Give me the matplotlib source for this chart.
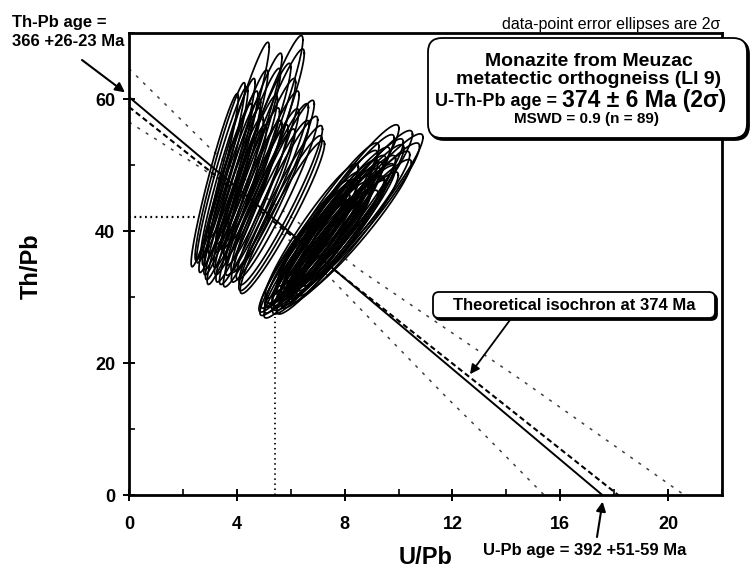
import numpy as np
import matplotlib.pyplot as plt
from matplotlib.patches import FancyBboxPatch
from matplotlib.ticker import MultipleLocator

plt.rcParams['font.family'] = ['Liberation Sans', 'DejaVu Sans']
plt.rcParams['font.weight'] = 'bold'

# ellipse centres (U/Pb, Th/Pb)
left_x = [5.06, 4.08, 4.41, 4.71, 3.18, 3.83, 4.94, 5.22, 5.62, 5.39, 5.63, 5.69,
          3.46, 3.67, 3.75, 3.83, 3.91, 4.32, 4.38, 4.45, 4.95, 4.63, 5.24, 4.04,
          4.45, 4.85, 4.83, 3.58, 4.00, 5.10, 5.49, 3.38]
left_y = [54.6, 53.8, 50.7, 51.3, 47.7, 47.1, 45.9, 46.5, 42.7, 46.9, 43.9, 42.1,
          48.5, 49.5, 48.0, 46.0, 45.0, 47.5, 46.0, 44.5, 48.0, 44.0, 44.5, 50.5,
          52.5, 49.5, 43.5, 46.5, 44.0, 53.0, 45.0, 49.0]
right_x = [7.98, 8.69, 7.35, 6.72, 6.73, 7.21, 7.60, 7.13, 6.84, 7.45, 7.84, 7.96,
           7.36, 6.55, 7.88, 8.30, 7.71, 7.39, 8.11, 8.59, 6.52, 7.15, 7.07, 7.88,
           7.84, 8.38, 6.78, 7.59, 7.55, 6.76, 8.35, 7.13, 8.13, 7.51, 7.36, 6.47]
right_y = [44.7, 43.6, 41.6, 36.0, 37.0, 37.5, 38.0, 38.5, 39.0, 39.5, 40.0, 39.0,
           40.5, 38.0, 41.0, 41.5, 42.0, 42.5, 43.0, 42.5, 36.5, 36.8, 37.8, 39.8,
           43.5, 44.0, 40.0, 41.0, 38.5, 38.2, 40.5, 39.2, 42.3, 40.2, 36.8, 37.2]
err_left, rho_left = 0.275, 0.955     # relative 2 sigma, correlation
err_right, rho_right = 0.255, 0.95

# regression line, its envelope and the theoretical isochron
fit_x = [0, 17.56]
fit_y = [60.3, 0]
theo_x = [0, 18.15]
theo_y = [58.8, 0]
env_up_x = [0, 3.07, 5.1, 8.56, 14.6, 20.6]
env_up_y = [64.6, 52.3, 45.0, 34.1, 17.3, 0]
env_lo_x = [0, 2.81, 5.2, 7.44, 11.78, 13.1, 15.4]
env_lo_y = [56.5, 49.2, 41.4, 33.0, 14.8, 9.5, 0]
ref_th = 42.1    # Th/Pb at the centroid
ref_u = 5.41     # U/Pb at the centroid

W, H = 751, 571


def ellipse(cx, cy, e, rho, n=160):
    t = np.linspace(0, 2 * np.pi, n)
    phi = np.arccos(rho)
    return cx + cx * e * np.cos(t), cy + cy * e * np.cos(t - phi)


def fx(px):
    return px / W


def fy(py):
    return 1 - py / H


def shadow_box(x0, y0, x1, y1, r=12):
    # rounded box with a small drop shadow, pixel coords (top-left origin)
    for dx, dy, fc in [(2, 2, 'black'), (0, 0, 'white')]:
        p = FancyBboxPatch((fx(x0 + dx), fy(y1 + dy)), fx(x1 - x0), (y1 - y0) / H,
                           boxstyle=f'round,pad=0,rounding_size={r / W}',
                           mutation_aspect=W / H, transform=fig.transFigure,
                           fc=fc, ec='black', lw=1.3)
        fig.add_artist(p)


fig = plt.figure(figsize=(W / 100, H / 100), dpi=100)
ax = fig.add_axes([129 / W, 76 / H, 593 / W, 462 / H])

ax.plot(env_up_x, env_up_y, color='0.25', lw=1.1, dashes=(2, 4.5))
ax.plot(env_lo_x, env_lo_y, color='0.25', lw=1.1, dashes=(2, 4.5))
ax.plot(fit_x, fit_y, color='black', lw=1.4)
ax.plot(theo_x, theo_y, color='black', lw=1.5, dashes=(2.6, 1.6))
ax.plot([0, 2.44], [ref_th, ref_th], color='black', lw=1.6, dashes=(0.8, 1.6))
ax.plot([ref_u, ref_u], [0, 27], color='black', lw=1.3, dashes=(0.8, 2))

for cx, cy in zip(left_x, left_y):
    ex, ey = ellipse(cx, cy, err_left, rho_left)
    ax.plot(ex, ey, color='black', lw=1.25)
for cx, cy in zip(right_x, right_y):
    ex, ey = ellipse(cx, cy, err_right, rho_right)
    ax.plot(ex, ey, color='black', lw=1.25)

ax.set_xlim(0, 22)
ax.set_ylim(0, 70)
ax.xaxis.set_major_locator(MultipleLocator(4))
ax.xaxis.set_minor_locator(MultipleLocator(2))
ax.yaxis.set_major_locator(MultipleLocator(20))
ax.yaxis.set_minor_locator(MultipleLocator(10))
ax.tick_params(which='major', direction='inout', length=8, width=1.4, labelsize=13)
ax.tick_params(which='minor', direction='in', length=4, width=1.2)
ax.tick_params(axis='x', which='major', pad=11)
ax.tick_params(axis='y', which='major', pad=6)
for s in ax.spines.values():
    s.set_linewidth(2)

fig.text(fx(426), fy(557), 'U/Pb', fontsize=17, ha='center', va='center')
fig.text(fx(31), fy(266), 'Th/Pb', fontsize=17, ha='center', va='center', rotation=90)

# annotations
fig.text(fx(720), fy(29), 'data-point error ellipses are 2σ', fontsize=11.5,
         fontweight='normal', ha='right', va='baseline')
fig.text(fx(12), fy(22), 'Th-Pb age =', fontsize=12, ha='left', va='center')
fig.text(fx(12), fy(42), '366 +26-23 Ma', fontsize=12, ha='left', va='center')
ax.annotate('', xy=(-0.15, 61.0), xytext=(fx(82), fy(60)), textcoords='figure fraction',
            arrowprops=dict(arrowstyle='-|>', lw=1.5, color='black', mutation_scale=14,
                            shrinkA=0, shrinkB=0), annotation_clip=False)

fig.text(fx(585), fy(550), 'U-Pb age = 392 +51-59 Ma', fontsize=12, ha='center', va='center')
ax.annotate('', xy=(17.57, -1.0), xytext=(fx(597), fy(537)), textcoords='figure fraction',
            arrowprops=dict(arrowstyle='-|>', lw=1.5, color='black', mutation_scale=14,
                            shrinkA=0, shrinkB=0), annotation_clip=False)

shadow_box(433, 292, 715, 318, r=6)
fig.text(fx(574), fy(305), 'Theoretical isochron at 374 Ma', fontsize=12,
         ha='center', va='center')
ax.annotate('', xy=(12.65, 18.3), xytext=(fx(510), fy(320)), textcoords='figure fraction',
            arrowprops=dict(arrowstyle='-|>', lw=1.3, color='black', mutation_scale=14,
                            shrinkA=0, shrinkB=0))

shadow_box(428, 38, 747, 138, r=14)
fig.text(fx(589), fy(61), 'Monazite from Meuzac', fontsize=14, ha='center', va='center')
fig.text(fx(589), fy(80), 'metatectic orthogneiss (LI 9)', fontsize=14, ha='center', va='center')
fig.text(fx(562), fy(101), 'U-Th-Pb age = ', fontsize=13, ha='right', va='center')
fig.text(fx(562), fy(100), '374 ± 6 Ma (2σ)', fontsize=16.5, ha='left', va='center')
fig.text(fx(587), fy(119), 'MSWD = 0.9 (n = 89)', fontsize=11, ha='center', va='center')

fig.savefig('out.png', dpi=100)
